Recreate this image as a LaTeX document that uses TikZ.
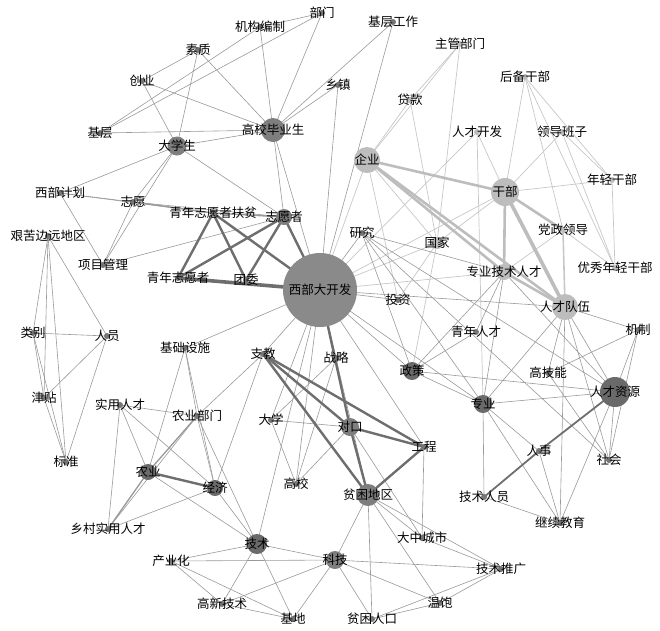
\documentclass[tikz,border=0pt]{standalone}
\usepackage{fontspec}
\newfontfamily\cjk{Noto Sans CJK SC}
\definecolor{cbig}{HTML}{8A8A8A}
\definecolor{cdark}{HTML}{6A6A6A}
\definecolor{cmid}{HTML}{7E7E7E}
\definecolor{clight}{HTML}{BDBDBD}
\definecolor{cdot}{HTML}{767676}
\tikzset{
  ed/.style={draw=black!40, line width=0.6pt},
  edl/.style={draw=black!22, line width=0.7pt},
  edt/.style={draw=black!57, line width=2.4pt},
  edtt/.style={draw=black!57, line width=3.6pt},
  edtl/.style={draw=black!26, line width=2.6pt},
  edtll/.style={draw=black!26, line width=3.6pt},
  dotn/.style={circle, inner sep=0pt, draw=none},
  lbl/.style={font=\cjk\fontsize{12.5}{13}\selectfont, inner sep=0pt, text=black}
}
\begin{document}
\begin{tikzpicture}[x=1pt,y=-1pt]
\useasboundingbox (0,0) rectangle (660,630);
% coordinates
\coordinate (xbkf) at (320,290);
\coordinate (gxbys) at (273,130);
\coordinate (dxs) at (177,146);
\coordinate (bm) at (322,13);
\coordinate (jgbz) at (260,27);
\coordinate (sz) at (198,50);
\coordinate (cy) at (142,81);
\coordinate (jc) at (100,133);
\coordinate (xbjh) at (60,193);
\coordinate (zy) at (133,202);
\coordinate (qnzyzfp) at (213,213);
\coordinate (zyz) at (284,217);
\coordinate (jkby) at (48,236);
\coordinate (xmgl) at (103,265);
\coordinate (qnzyz) at (178,278);
\coordinate (tw) at (246,280);
\coordinate (lb) at (33,333);
\coordinate (ry) at (107,336);
\coordinate (jt) at (44,398);
\coordinate (bz) at (66,462);
\coordinate (jcss) at (185,348);
\coordinate (zj) at (263,354);
\coordinate (zl) at (336,358);
\coordinate (syrc) at (120,405);
\coordinate (nybm) at (197,416);
\coordinate (dx) at (271,420);
\coordinate (dk) at (350,427);
\coordinate (gc) at (424,447);
\coordinate (ny) at (148,472);
\coordinate (jj) at (215,488);
\coordinate (gx) at (296,484);
\coordinate (pkdq) at (368,495);
\coordinate (xcsyrc) at (108,529);
\coordinate (js) at (257,544);
\coordinate (cyh) at (171,561);
\coordinate (kj) at (335,560);
\coordinate (gxjs) at (222,604);
\coordinate (jd) at (293,619);
\coordinate (pkrk) at (372,619);
\coordinate (wb) at (440,603);
\coordinate (dzcs) at (422,538);
\coordinate (jstg) at (501,569);
\coordinate (jsry) at (484,497);
\coordinate (jxjy) at (560,523);
\coordinate (rs) at (539,451);
\coordinate (sh) at (609,460);
\coordinate (zhy) at (483,404);
\coordinate (rczy) at (615,392);
\coordinate (gjn) at (548,373);
\coordinate (jz) at (638,330);
\coordinate (rcdw) at (565,307);
\coordinate (qnrc) at (476,332);
\coordinate (zc) at (412,371);
\coordinate (tz) at (398,300);
\coordinate (yj) at (362,233);
\coordinate (gj) at (437,243);
\coordinate (zyjsrc) at (504,272);
\coordinate (dzld) at (563,230);
\coordinate (yxnqgb) at (615,268);
\coordinate (gb) at (505,192);
\coordinate (rckf) at (477,132);
\coordinate (ldbz) at (562,132);
\coordinate (nqgb) at (612,180);
\coordinate (hbgb) at (525,77);
\coordinate (qy) at (367,160);
\coordinate (dkuan) at (410,100);
\coordinate (zgbm) at (460,44);
\coordinate (jcgz) at (393,22);
\coordinate (xz) at (338,85);
% light edges
\foreach \a/\b in {zgbm/qy, zgbm/dkuan, dkuan/qy, zgbm/gj, dkuan/gj, rckf/gb, rckf/zhy, rckf/xbkf,
  hbgb/gb, hbgb/nqgb, hbgb/yxnqgb, hbgb/dzld, ldbz/gb, ldbz/nqgb, ldbz/yxnqgb, nqgb/gb, nqgb/yxnqgb,
  dzld/yxnqgb, dzld/zyjsrc, gb/gj, qy/xbkf, qy/tz, qy/gj, tz/gj, gj/zc, gj/xbkf, gb/xbkf, zyjsrc/xbkf}
  \draw[edl] (\a) -- (\b);
\draw[edl, line width=1.6pt] (dzld) -- (rcdw);
% normal edges
\foreach \a/\b in {bm/jgbz, bm/jc, bm/gxbys, jgbz/jc, jgbz/gxbys, sz/cy, sz/dxs, sz/gxbys, cy/dxs, cy/gxbys,
  jc/gxbys, dxs/gxbys, dxs/xbjh, dxs/zy, dxs/xmgl, zy/xmgl, dxs/zyz, gxbys/zyz, gxbys/xz, gxbys/jcgz,
  xbjh/zy, xbjh/qnzyzfp, xbjh/xmgl, zy/zyz, xmgl/zyz, gxbys/xbkf,
  jkby/lb, jkby/jt, jkby/bz, jkby/ry, lb/ry, lb/jt, lb/bz, jt/bz, jt/ry, ry/bz,
  xbkf/xz, xbkf/jcgz, xbkf/yj, xbkf/tz, xbkf/rcdw, xbkf/jcss, xbkf/zj, xbkf/dx, xbkf/gx, xbkf/js,
  xbkf/zl, xbkf/pkdq, xbkf/gc, xbkf/zc, xbkf/zhy,
  yj/zyjsrc, yj/rczy, yj/zc, yj/zhy, yj/sh, zc/qnrc, zc/zyjsrc, zc/rczy, zc/zhy, qnrc/zyjsrc,
  zyjsrc/zhy, zyjsrc/rczy, rcdw/jz, rcdw/zhy, rcdw/gjn, rcdw/rczy, rcdw/sh, rcdw/jxjy,
  jz/rczy, jz/sh, jz/gjn, zhy/rczy, rczy/sh, rczy/jxjy, zhy/rs, zhy/jsry, zhy/jxjy, rs/jxjy,
  jsry/jxjy, gjn/sh,
  jcss/ny, jcss/nybm, jcss/jj, syrc/nybm, syrc/xcsyrc, syrc/ny, syrc/jj, ny/js, nybm/jj, nybm/js,
  nybm/xcsyrc, xcsyrc/jj, jj/js, zj/nybm, zj/jj, zl/dx, zl/gx, dx/dk, dx/gx, dk/gx, dk/dzcs,
  gc/dzcs, pkdq/dzcs, pkdq/kj, pkdq/pkrk, pkdq/wb, pkdq/jstg, dzcs/jstg, kj/jstg, kj/wb, kj/pkrk,
  kj/js, kj/cyh, kj/gxjs, kj/jd, jstg/wb, jstg/pkrk, wb/pkrk, js/cyh, js/gxjs, js/jd, cyh/gxjs,
  cyh/jd, gxjs/jd}
  \draw[ed] (\a) -- (\b);
\draw[ed, line width=1.3pt] (ny) -- (nybm);
\draw[ed, line width=1.3pt] (ny) -- (xcsyrc);
\draw[ed, line width=1.4pt] (zy) -- (qnzyzfp);
\draw[ed, line width=1.4pt] (qnzyzfp) -- (zyz);
\draw[edt, line width=1.8pt] (rczy) -- (rs);
\draw[edt, line width=1.8pt] (rs) -- (jsry);
% thick light edges
\foreach \a/\b in {qy/gb, qy/rcdw, qy/zyjsrc, gb/zyjsrc, gb/dzld, zyjsrc/rcdw}
  \draw[edtl] (\a) -- (\b);
\draw[edtll] (gb) -- (rcdw);
% thick dark edges
\foreach \a/\b in {qnzyzfp/qnzyz, qnzyzfp/tw, qnzyzfp/xbkf, zyz/qnzyz, zyz/tw, zyz/xbkf,
  zj/dk, zj/gc, zj/pkdq, dk/gc, dk/pkdq, gc/pkdq, xbkf/dk, ny/jj}
  \draw[edt] (\a) -- (\b);
\draw[edtt] (qnzyz) -- (xbkf);
% node circles
\foreach \n/\s/\c in {xbkf/74/cbig, gxbys/24/cmid, dxs/19/cmid, zyz/16/cmid, qy/26/clight, gb/28/clight,
  rcdw/26/clight, zyjsrc/16/clight, gj/12/clight, rczy/30/cdark, zc/18/cdark, zhy/18/cdark,
  pkdq/22/cmid, dk/18/cmid, js/20/cdark, kj/18/cmid, ny/16/cdark, jj/16/cdark}
  \node[dotn, minimum size=\s pt, fill=\c] (c-\n) at (\n) {};
\foreach \n in {bm, jgbz, sz, cy, jc, xbjh, zy, qnzyzfp, jkby, xmgl, qnzyz, tw, lb, ry, jt, bz, jcss, zj, zl,
  syrc, nybm, dx, gc, gx, xcsyrc, cyh, gxjs, jd, pkrk, wb, dzcs, jstg, jsry, jxjy, rs, sh, gjn, jz, qnrc,
  tz, yj, jcgz, xz}
  \node[dotn, minimum size=6pt, fill=cdot] (c-\n) at (\n) {};
\foreach \n in {rckf, ldbz, nqgb, hbgb, dkuan, zgbm, dzld, yxnqgb}
  \node[dotn, minimum size=6pt, fill=clight] (c-\n) at (\n) {};
% labels
\foreach \n/\t in {xbkf/西部大开发, gxbys/高校毕业生, dxs/大学生, bm/部门, jgbz/机构编制, sz/素质, cy/创业,
  jc/基层, xbjh/西部计划, zy/志愿, qnzyzfp/青年志愿者扶贫, zyz/志愿者, jkby/艰苦边远地区, xmgl/项目管理,
  qnzyz/青年志愿者, tw/团委, lb/类别, ry/人员, jt/津贴, bz/标准, jcss/基础设施, zj/支教, zl/战略,
  syrc/实用人才, nybm/农业部门, dx/大学, dk/对口, gc/工程, ny/农业, jj/经济, gx/高校, pkdq/贫困地区,
  xcsyrc/乡村实用人才, js/技术, cyh/产业化, kj/科技, gxjs/高新技术, jd/基地, pkrk/贫困人口, wb/温饱,
  dzcs/大中城市, jstg/技术推广, jsry/技术人员, jxjy/继续教育, rs/人事, sh/社会, zhy/专业, rczy/人才资源,
  gjn/高技能, jz/机制, rcdw/人才队伍, qnrc/青年人才, zc/政策, tz/投资, yj/研究, gj/国家,
  zyjsrc/专业技术人才, dzld/党政领导, yxnqgb/优秀年轻干部, gb/干部, rckf/人才开发, ldbz/领导班子,
  nqgb/年轻干部, hbgb/后备干部, qy/企业, dkuan/贷款, zgbm/主管部门, jcgz/基层工作, xz/乡镇}
  \node[lbl] (l-\n) at (\n) {\t};
\end{tikzpicture}
\end{document}
